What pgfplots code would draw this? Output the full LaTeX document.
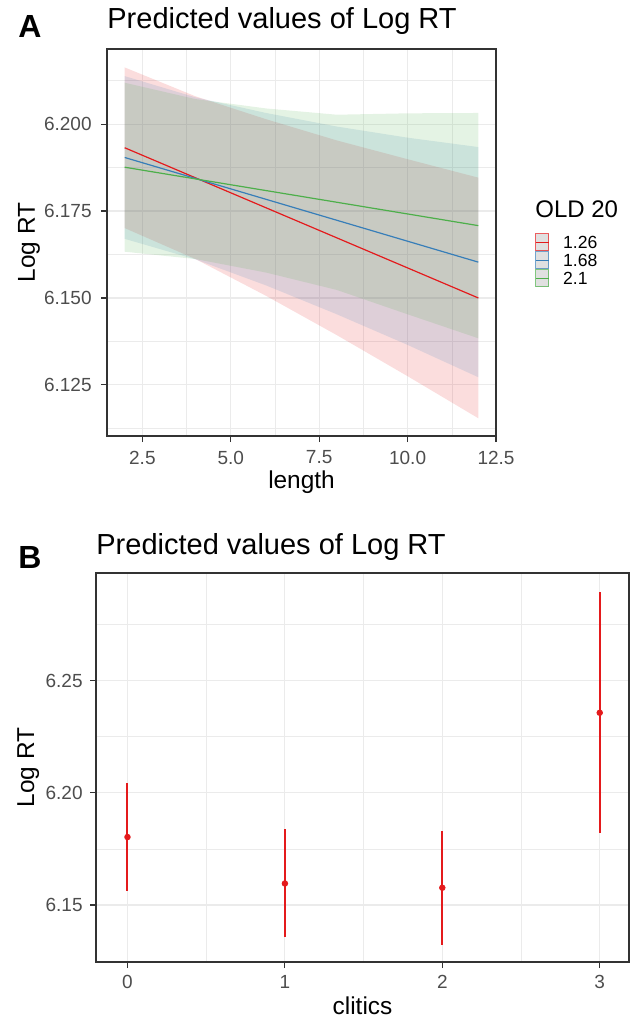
\documentclass[border=0pt]{standalone}
\usepackage{pgfplots}
\pgfplotsset{compat=1.18}
\usepackage{pgfplotstable}
\usepgfplotslibrary{fillbetween}
\usepackage{fontspec}
\setmainfont{Liberation Sans}
\definecolor{cR}{HTML}{E41A1C}
\definecolor{cB}{HTML}{377EB8}
\definecolor{cG}{HTML}{4DAF4A}
\definecolor{grid92}{HTML}{EBEBEB}
\definecolor{g20}{HTML}{333333}
\definecolor{g30}{HTML}{4D4D4D}

% Panel A: confidence bands (lower/upper) for OLD 20 = 1.26 (r), 1.68 (b), 2.1 (g)
\pgfplotstableread{
x   rl      ru      bl      bu      gl      gu
2   6.1701  6.2163  6.1670  6.2138  6.1633  6.2119
4   6.1612  6.2080  6.1611  6.2077  6.1612  6.2072
6   6.1506  6.2014  6.1536  6.2032  6.1573  6.2045
8   6.1393  6.1953  6.1453  6.1993  6.1523  6.2027
10  6.1275  6.1899  6.1365  6.1961  6.1453  6.2031
12  6.1154  6.1846  6.1272  6.1934  6.1384  6.2032
}\bands
% Panel A: predicted lines
\pgfplotstableread{
x   r       b       g
2   6.1932  6.1904  6.1876
12  6.1500  6.1603  6.1708
}\lines
% Panel B: predicted values with CI
\pgfplotstableread{
x  y       ep      em
0  6.1803  0.0242  0.0239
1  6.1596  0.0242  0.0240
2  6.1577  0.0252  0.0253
3  6.2357  0.0540  0.0538
}\clit

\pgfplotsset{
  gg/.style={
    scale only axis,
    axis line style={g20, line width=0.6pt},
    tick style={g20, line width=0.6pt},
    tick align=outside,
    tick pos=left,
    major tick length=3pt,
    minor tick length=0pt,
    grid=both,
    major grid style={grid92, line width=0.55pt},
    minor grid style={grid92, line width=0.3pt},
    ticklabel style={font=\fontsize{9.5}{11}\selectfont, text=g30, inner sep=0pt},
    /pgf/number format/assume math mode=true,
    label style={font=\fontsize{12.2}{14}\selectfont, inner sep=0pt},
    every axis title shift=0pt,
    title style={font=\fontsize{14.5}{16}\selectfont, inner sep=0pt, anchor=base west},
  }
}

\begin{document}
\begin{tikzpicture}
\node[anchor=base west, inner sep=0pt, font=\fontsize{16}{18}\selectfont\bfseries] at (9pt,-19pt) {A};
\node[anchor=base west, inner sep=0pt, font=\fontsize{16}{18}\selectfont\bfseries] at (9pt,-284pt) {B};

\begin{axis}[gg,
  at={(53.5pt,-24.5pt)}, anchor=north west,
  width=194.5pt, height=193.5pt,
  xmin=1.5, xmax=12.5, ymin=6.1103, ymax=6.2216,
  xtick={2.5,5,7.5,10,12.5}, xticklabels={2.5,5.0,7.5,10.0,12.5},
  minor xtick={3.75,6.25,8.75,11.25},
  ytick={6.125,6.15,6.175,6.2}, yticklabels={6.125,6.150,6.175,6.200},
  minor ytick={6.1125,6.1375,6.1625,6.1875,6.2125},
  title={Predicted values of Log RT},
  title style={at={(rel axis cs:0,1.0535)}},
  xlabel={length}, ylabel={Log RT},
  xlabel style={at={(rel axis cs:0.5,-0.1344)}, anchor=base},
  ylabel style={at={(rel axis cs:-0.1851,0.5)}, anchor=base},
  xticklabel style={anchor=north, yshift=-4.2pt},
  yticklabel style={anchor=east, xshift=-4.5pt},
  legend style={draw=none, fill=none, inner sep=0pt, outer sep=0pt,
    row sep=0pt, column sep=0pt,
    at={(rel axis cs:1.1003,0.5245)}, anchor=north west,
    font=\fontsize{8.8}{10}\selectfont,
    nodes={inner sep=0pt, text height=7.65pt, text depth=0.85pt, anchor=west}},
  legend cell align=left,
  legend image code/.code={
    \draw[#1, line width=0.5pt, fill=black!12, draw opacity=0.7] (0pt,-4.25pt) rectangle (6.5pt,4.25pt);
    \draw[#1, line width=0.5pt] (0pt,0pt) -- (6.5pt,0pt);
    \path (13.5pt,0pt);
  },
]
\addplot[draw=none, name path=ru, forget plot] table[x=x, y=ru] {\bands};
\addplot[draw=none, name path=rl, forget plot] table[x=x, y=rl] {\bands};
\addplot[draw=none, name path=bu, forget plot] table[x=x, y=bu] {\bands};
\addplot[draw=none, name path=bl, forget plot] table[x=x, y=bl] {\bands};
\addplot[draw=none, name path=gu, forget plot] table[x=x, y=gu] {\bands};
\addplot[draw=none, name path=gl, forget plot] table[x=x, y=gl] {\bands};
\addplot[fill=cR, fill opacity=0.15, draw=none, forget plot] fill between[of=ru and rl];
\addplot[fill=cB, fill opacity=0.15, draw=none, forget plot] fill between[of=bu and bl];
\addplot[fill=cG, fill opacity=0.15, draw=none, forget plot] fill between[of=gu and gl];
\addplot[cR, line width=0.6pt] table[x=x, y=r] {\lines};
\addlegendentry{1.26}
\addplot[cB, line width=0.6pt] table[x=x, y=b] {\lines};
\addlegendentry{1.68}
\addplot[cG, line width=0.6pt] table[x=x, y=g] {\lines};
\addlegendentry{2.1}
\end{axis}
\node[anchor=base west, inner sep=0pt, font=\fontsize{12}{14}\selectfont] at (267.5pt,-109pt) {OLD 20};

\begin{axis}[gg,
  at={(48pt,-286.5pt)}, anchor=north west,
  width=266.5pt, height=194.5pt,
  xmin=-0.2, xmax=3.186, ymin=6.1246, ymax=6.298,
  xtick={0,1,2,3}, xticklabels={0,1,2,3},
  minor xtick={0.5,1.5,2.5},
  ytick={6.15,6.2,6.25}, yticklabels={6.15,6.20,6.25},
  minor ytick={6.125,6.175,6.225,6.275},
  title={Predicted values of Log RT},
  title style={at={(rel axis cs:0,1.0463)}},
  xlabel={clitics}, ylabel={Log RT},
  xlabel style={at={(rel axis cs:0.5,-0.1362)}, anchor=base},
  ylabel style={at={(rel axis cs:-0.1163,0.5)}, anchor=base},
  xticklabel style={anchor=north, yshift=-3.5pt},
  yticklabel style={anchor=east, xshift=-3.5pt},
]
\addplot[cR, only marks, mark=*, mark size=1.4pt,
  error bars/.cd, y dir=both, y explicit,
  error bar style={line width=1pt, cR}, error mark=none]
  table[x=x, y=y, y error plus=ep, y error minus=em] {\clit};
\end{axis}
\pgfresetboundingbox
\useasboundingbox (0pt,0pt) rectangle (319pt,-510.5pt);
\end{tikzpicture}
\end{document}
